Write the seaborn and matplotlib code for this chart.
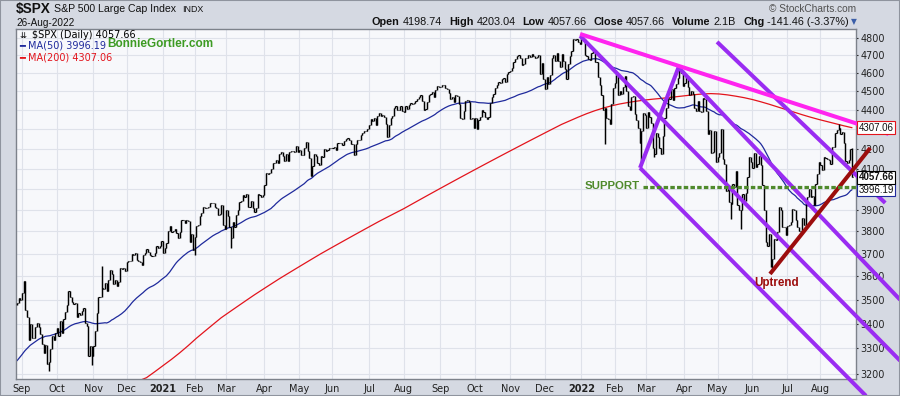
import numpy as np
import pandas as pd
import seaborn as sns
import matplotlib.pyplot as plt
from matplotlib.patches import Rectangle

# S&P 500 daily, 27-Aug-2020 .. 26-Aug-2022
month_names = ['Aug', 'Sep', 'Oct', 'Nov', 'Dec', '2021', 'Feb', 'Mar', 'Apr', 'May', 'Jun', 'Jul',
               'Aug', 'Sep', 'Oct', 'Nov', 'Dec', '2022', 'Feb', 'Mar', 'Apr', 'May', 'Jun', 'Jul', 'Aug']
month_len = [3, 21, 22, 20, 22, 19, 19, 23, 21, 20, 22, 21, 22, 21, 21, 21, 22, 20, 19, 23, 20, 21, 21, 20, 20]

close = [
    3485, 3508, 3500,
    3527, 3581, 3455, 3427, 3332, 3399, 3340, 3341, 3384, 3401, 3385, 3357, 3319, 3281, 3315, 3237, 3247, 3298, 3351, 3335, 3363,
    3381, 3348, 3409, 3361, 3419, 3447, 3477, 3535, 3512, 3489, 3483, 3484, 3427, 3443, 3436, 3453, 3465, 3401, 3391, 3271, 3310, 3270,
    3310, 3370, 3443, 3510, 3509, 3551, 3545, 3572, 3537, 3585, 3627, 3610, 3568, 3582, 3558, 3577, 3635, 3630, 3638, 3622,
    3662, 3669, 3666, 3699, 3692, 3702, 3673, 3668, 3663, 3647, 3695, 3702, 3722, 3709, 3695, 3687, 3690, 3703, 3735, 3727, 3732, 3756,
    3701, 3726, 3748, 3804, 3825, 3799, 3801, 3810, 3795, 3768, 3798, 3852, 3853, 3841, 3855, 3849, 3751, 3788, 3714,
    3774, 3826, 3831, 3872, 3887, 3916, 3911, 3910, 3916, 3934, 3933, 3932, 3914, 3907, 3877, 3881, 3925, 3829, 3811,
    3901, 3871, 3820, 3768, 3842, 3821, 3876, 3899, 3939, 3943, 3969, 3963, 3974, 3915, 3913, 3941, 3911, 3889, 3910, 3975, 3972, 3959, 3973,
    4020, 4078, 4074, 4080, 4097, 4129, 4128, 4142, 4125, 4170, 4185, 4163, 4135, 4173, 4135, 4180, 4188, 4187, 4183, 4211, 4181,
    4192, 4165, 4168, 4202, 4233, 4189, 4153, 4063, 4113, 4174, 4164, 4128, 4116, 4160, 4156, 4198, 4188, 4195, 4201, 4204,
    4202, 4208, 4192, 4230, 4227, 4227, 4220, 4239, 4247, 4255, 4246, 4224, 4222, 4166, 4224, 4246, 4242, 4267, 4281, 4291, 4291, 4298,
    4320, 4352, 4344, 4358, 4321, 4370, 4385, 4369, 4375, 4361, 4327, 4259, 4323, 4359, 4368, 4412, 4422, 4402, 4401, 4419, 4395,
    4387, 4423, 4403, 4429, 4437, 4432, 4436, 4448, 4460, 4468, 4479, 4449, 4400, 4406, 4442, 4480, 4486, 4496, 4470, 4509, 4529, 4523,
    4524, 4537, 4535, 4520, 4514, 4493, 4459, 4469, 4443, 4481, 4474, 4433, 4358, 4354, 4396, 4449, 4455, 4443, 4353, 4360, 4308,
    4357, 4300, 4346, 4364, 4399, 4391, 4361, 4351, 4364, 4438, 4471, 4486, 4520, 4537, 4549, 4545, 4567, 4575, 4551, 4597, 4605,
    4614, 4631, 4660, 4680, 4697, 4702, 4685, 4646, 4650, 4683, 4683, 4701, 4689, 4705, 4698, 4683, 4691, 4701, 4595, 4655, 4567,
    4513, 4577, 4538, 4592, 4686, 4701, 4668, 4712, 4669, 4635, 4710, 4669, 4621, 4568, 4649, 4697, 4726, 4791, 4786, 4793, 4778, 4766,
    4797, 4794, 4701, 4696, 4677, 4671, 4713, 4726, 4660, 4663, 4577, 4533, 4483, 4398, 4410, 4357, 4350, 4327, 4432, 4516,
    4546, 4590, 4478, 4501, 4484, 4522, 4587, 4504, 4419, 4402, 4472, 4475, 4380, 4349, 4305, 4226, 4288, 4385, 4374,
    4306, 4387, 4364, 4329, 4201, 4171, 4278, 4260, 4204, 4173, 4262, 4358, 4412, 4463, 4461, 4512, 4456, 4520, 4543, 4576, 4632, 4603, 4530,
    4546, 4583, 4526, 4481, 4500, 4488, 4413, 4397, 4447, 4393, 4392, 4463, 4460, 4394, 4272, 4297, 4175, 4183, 4288, 4132,
    4155, 4175, 4300, 4147, 4123, 3991, 4001, 3936, 3930, 4024, 4008, 4089, 3924, 3901, 3901, 3974, 3941, 3979, 4058, 4158, 4132,
    4101, 4177, 4109, 4121, 4161, 4116, 4018, 3901, 3750, 3735, 3790, 3667, 3675, 3765, 3760, 3796, 3912, 3900, 3821, 3819, 3785,
    3825, 3831, 3845, 3903, 3899, 3855, 3819, 3802, 3790, 3863, 3831, 3937, 3960, 3999, 3962, 3967, 3921, 4024, 4072, 4130,
    4119, 4091, 4155, 4152, 4145, 4140, 4122, 4210, 4208, 4280, 4297, 4305, 4275, 4284, 4228, 4138, 4128, 4141, 4199, 4058,
]

# 49 sessions before the first bar, only used to start the MA(50)
pre_close = [
    3115, 3098, 3118, 3131, 3050, 3084, 3009, 3053, 3100,
    3116, 3130, 3180, 3145, 3169, 3152, 3185, 3155, 3197, 3227, 3216, 3225, 3251, 3258, 3276, 3236, 3216, 3240, 3218, 3258, 3246, 3271,
    3295, 3306, 3328, 3349, 3352, 3360, 3333, 3380, 3373, 3373, 3382, 3390, 3375, 3385, 3397, 3431, 3443, 3479,
]

# intraday extremes that poke out of the bars (session index, price)
spike_idx = [19, 45, 51, 129, 107, 341, 354, 376, 384, 399, 430, 436, 454, 455, 495, 503]
spike_val = [3209, 3233, 3646, 3723, 3694, 4818, 4222, 4115, 4157, 4637, 3859, 3811, 3639, 3636, 4325, 4203]

# MA(200) read every 5th session, starting 2 sessions before the first bar
ma200 = [
    3092, 3097, 3102, 3107, 3112, 3117, 3122, 3128, 3133, 3139, 3144, 3150, 3155, 3161, 3166, 3172,
    3185, 3208, 3232, 3256, 3282, 3310, 3340, 3368, 3396, 3424,
    3448, 3472, 3496, 3520, 3543, 3566, 3589, 3611, 3633, 3655, 3677, 3699, 3720, 3741, 3762, 3783,
    3804, 3825, 3846, 3866, 3886, 3906,
    3928, 3950, 3972, 3994, 4016, 4038, 4060, 4082, 4104, 4126, 4148, 4170, 4192, 4214, 4236, 4258,
    4280, 4302, 4324,
    4343, 4362, 4380, 4396, 4410, 4422, 4432, 4440, 4447, 4453, 4458, 4462, 4467, 4472, 4477, 4482,
    4486, 4488, 4486, 4481, 4474, 4466, 4456, 4444, 4431, 4417, 4403, 4389, 4375, 4362, 4350, 4339,
    4328, 4317, 4307,
]

last_close, last_ma50, last_ma200 = 4057.66, 3996.19, 4307.06
support_level = 4008

# hand-drawn trendlines as (session index, price) anchors
purple_lines = [
    [(339.2, 4812), (532, 3251)],
    [(398.8, 4629), (532, 3499)],
    [(421.7, 4777), (523, 3933)],
    [(375.3, 4103), (511.4, 3116)],
    [(375.3, 4103), (398.8, 4640)],
]
magenta_line = [(339.2, 4823), (525, 4275)]
uptrend_line = [(453.6, 3610), (514, 4203)]

sns.set_style('white')
plt.rcParams['font.family'] = ['DejaVu Sans']

W, H = 900, 396
fig = plt.figure(figsize=(W / 100, H / 100), dpi=100)
fig.patch.set_facecolor('#d5d9e2')
fig.patches.append(Rectangle((0, 0), 1, 1, transform=fig.transFigure, fill=False,
                             ec='#8f949e', lw=1.5))
ax = fig.add_axes([16 / W, 1 - 379 / H, 840 / W, 350 / H])
ax.set_facecolor('#f7f8fb')

idx = np.arange(len(close))
df = pd.DataFrame({'idx': idx, 'close': close})
full = pd.Series(pre_close + close, dtype=float)
df['ma50'] = full.rolling(50).mean().iloc[len(pre_close):].values
prev = np.array([pre_close[-1]] + close[:-1])
df['lo'] = np.minimum(prev, df['close'])
df['hi'] = np.maximum(prev, df['close'])
for i, v in zip(spike_idx, spike_val):
    df.loc[i, 'lo'] = min(df.loc[i, 'lo'], v)
    df.loc[i, 'hi'] = max(df.loc[i, 'hi'], v)

ma200_df = pd.DataFrame({'idx': np.arange(len(ma200)) * 5 - 2, 'ma200': ma200})

ax.set_yscale('log')

# price bars
ax.vlines(df['idx'], df['lo'], df['hi'], color='black', lw=1.05, zorder=3)
ax.hlines(df['close'], df['idx'], df['idx'] + 0.7, color='black', lw=0.8, zorder=3)

sns.lineplot(data=ma200_df, x='idx', y='ma200', ax=ax, color='#e3141c', lw=0.9, zorder=2)
sns.lineplot(data=df, x='idx', y='ma50', ax=ax, color='#1f2a9c', lw=0.9, zorder=2)

for seg in purple_lines:
    xs, ys = zip(*seg)
    ax.plot(xs, ys, color='#9a2cf2', lw=2.9, clip_on=False, zorder=4, solid_capstyle='butt')
xs, ys = zip(*magenta_line)
ax.plot(xs, ys, color='#ff24ef', lw=2.9, clip_on=False, zorder=5, solid_capstyle='butt')
xs, ys = zip(*uptrend_line)
ax.plot(xs, ys, color='#9c0d0d', lw=2.9, clip_on=False, zorder=6, solid_capstyle='butt')
ax.plot([377, 508], [support_level, support_level], color='#4f8a2c', lw=2.3,
        dashes=(1.4, 0.7), clip_on=False, zorder=7)
ax.text(358.4, 4014, 'SUPPORT', color='#4f8a2c', fontsize=8.2, fontweight='bold',
        family='Liberation Sans', ha='center', va='center', zorder=8)
ax.text(457.8, 3571, 'Uptrend', color='#9c0d0d', fontsize=8.4, fontweight='bold',
        family='Liberation Sans', ha='center', va='center', zorder=8)

# axes, ticks, grid
ax.set_xlim(-0.6, 505.4)
ax.set_ylim(3180, 4852)
yt = list(range(3200, 4900, 100))
ax.set_yticks(yt)
# 4000 and 4300 sit under the value tags
ax.set_yticklabels(['' if v in (4000, 4300) else str(v) for v in yt])
ax.yaxis.set_minor_locator(plt.NullLocator())
ax.yaxis.set_minor_formatter(plt.NullFormatter())
ax.yaxis.tick_right()
starts = np.cumsum([0] + month_len[:-1])
ax.set_xticks(starts[1:])
ax.set_xticklabels(month_names[1:])
for lab in ax.get_xticklabels():
    if lab.get_text() in ('2021', '2022'):
        lab.set_fontweight('bold')
        lab.set_fontsize(7.8)
ax.tick_params(axis='y', length=1.5, pad=1.5, labelsize=6.9, colors='#222222', direction='out')
ax.tick_params(axis='x', length=2, pad=1.5, labelsize=7, colors='#222222', direction='out')
ax.grid(True, color='#dfe2ea', lw=0.8, zorder=0)
ax.set_axisbelow(True)
for sp in ax.spines.values():
    sp.set_color('#7d828b')
    sp.set_linewidth(1)
ax.set_xlabel('')
ax.set_ylabel('')

# value tags on the right axis
tr = ax.get_yaxis_transform()
tags = [(last_ma200, '#e3141c', 'normal', 10), (last_ma50, '#1f2a9c', 'normal', 10),
        (last_close, 'black', 'bold', 11)]
for val, ec, wt, z in tags:
    ax.text(1.003, val, f'{val:.2f}', transform=tr, fontsize=7, color='#111111',
            family='Liberation Sans', fontweight=wt, va='center', ha='left', zorder=z,
            clip_on=False, bbox=dict(boxstyle='square,pad=0.15', fc='white', ec=ec, lw=0.8))


def fx(px):
    return px / W


def fy(py):
    return 1 - py / H


# in-chart legend
fig.text(fx(20), fy(35), '\u21ca', fontsize=6, va='center', color='black')
fig.text(fx(32), fy(35), f'$SPX (Daily) {last_close:.2f}', fontsize=7, va='center', color='black')
fig.text(fx(19), fy(45.7), f'\u2501 MA(50) {last_ma50:.2f}', fontsize=7, va='center', color='#1f2a9c')
fig.text(fx(19), fy(57.3), f'\u2501 MA(200) {last_ma200:.2f}', fontsize=7, va='center', color='#e3141c')
fig.text(fx(107), fy(43.7), 'BonnieGortler.com', fontsize=8.5, fontweight='bold',
         family='Liberation Sans', va='center', color='#3d9b23')

# header
fig.text(fx(16), fy(13.5), '$SPX', fontsize=9.8, fontweight='bold', family='Liberation Sans',
         va='baseline', color='#111111')
fig.text(fx(54), fy(12.5), 'S&P 500 Large Cap Index', fontsize=7.6, family='Liberation Sans',
         va='baseline', color='#111111')
fig.text(fx(182), fy(12.5), 'INDX', fontsize=6.4, family='Liberation Sans',
         va='baseline', color='#111111')
fig.text(fx(16), fy(23), '26-Aug-2022', fontsize=7.2, family='Liberation Sans',
         va='center', color='#111111')
fig.text(fx(856), fy(9), '\u00a9 StockCharts.com', fontsize=7.3, family='Liberation Sans',
         va='center', ha='right', color='#505050')

header = [
    ('Open', 0, 'bold'), ('4198.74', 3, 'normal'),
    ('High', 7, 'bold'), ('4203.04', 3, 'normal'),
    ('Low', 7, 'bold'), ('4057.66', 3, 'normal'),
    ('Close', 7, 'bold'), ('4057.66', 3, 'normal'),
    ('Volume', 7, 'bold'), ('2.1B', 3, 'normal'),
    ('Chg', 7, 'bold'), ('-141.46 (-3.37%)', 3, 'normal'),
]
rend = fig.canvas.get_renderer()
fig.text(fx(857), fy(22), '\u25bc', fontsize=5.5, va='center', ha='right', color='#3b5ea8')
xr = 849
for i in range(len(header) - 1, -1, -1):
    s, gap, wt = header[i]
    t = fig.text(fx(xr), fy(22), s, fontsize=7.8, fontweight=wt, family='Liberation Sans',
                 va='center', ha='right', color='#111111')
    xr -= t.get_window_extent(rend).width + gap

fig.savefig('out.png', dpi=100, facecolor=fig.get_facecolor())
